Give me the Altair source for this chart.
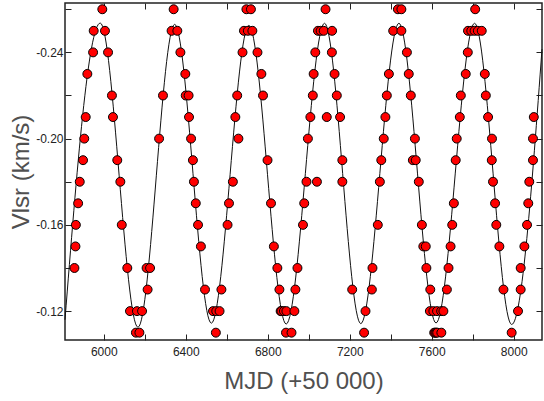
import altair as alt
import pandas as pd

# Observed radial velocities (MJD offset by 50 000, Vlsr in km/s)
mjd = [
    5857, 5862, 5864, 5875, 5883, 5899, 5905, 5912, 5920, 5948, 5951, 5993,
    6006, 6021, 6040, 6045, 6066, 6081, 6088, 6115, 6128, 6157, 6162, 6174,
    6187, 6209, 6214, 6226, 6270, 6289, 6331, 6341, 6359, 6374, 6398, 6400,
    6414, 6416, 6426, 6435, 6440, 6449, 6460, 6474, 6494, 6533, 6547, 6549,
    6565, 6574, 6604, 6611, 6630, 6642, 6651, 6657, 6677, 6684, 6696, 6703,
    6718, 6725, 6750, 6769, 6777, 6799, 6816, 6830, 6847, 6857, 6863, 6867,
    6879, 6891, 6889, 6916, 6930, 6935, 6945, 6972, 6978, 6989, 6996, 7008,
    7020, 7024, 7032, 7040, 7045, 7058, 7073, 7082, 7088, 7114, 7113, 7126,
    7137, 7153, 7164, 7164, 7212, 7270, 7277, 7308, 7311, 7337, 7347, 7354,
    7366, 7374, 7381, 7391, 7412, 7435, 7452, 7452, 7479, 7488, 7498, 7508,
    7518, 7522, 7537, 7552, 7559, 7571, 7574, 7591, 7593, 7608, 7612, 7617,
    7622, 7626, 7627, 7646, 7647, 7657, 7674, 7682, 7692, 7700, 7708, 7717,
    7722, 7737, 7742, 7766, 7776, 7777, 7793, 7809, 7812, 7825, 7844, 7859,
    7864, 7875, 7894, 7893, 7899, 7909, 7915, 7930, 7950, 7990, 8021, 8034,
    8034, 8052, 8065, 8071, 8076, 8094, 8094, 8098,
]
vlsr = [
    -0.14, -0.15, -0.16, -0.17, -0.18, -0.19, -0.20, -0.21, -0.23, -0.24, -0.25, -0.26,
    -0.25, -0.24, -0.22, -0.21, -0.19, -0.18, -0.16, -0.14, -0.12, -0.11, -0.12, -0.11,
    -0.12, -0.14, -0.13, -0.14, -0.20, -0.22, -0.25, -0.26, -0.25, -0.24, -0.23, -0.22,
    -0.22, -0.21, -0.20, -0.19, -0.18, -0.17, -0.16, -0.15, -0.13, -0.12, -0.11, -0.12,
    -0.12, -0.13, -0.16, -0.17, -0.18, -0.21, -0.22, -0.20, -0.24, -0.25, -0.26, -0.25,
    -0.26, -0.25, -0.24, -0.23, -0.22, -0.19, -0.17, -0.15, -0.14, -0.13, -0.12, -0.12,
    -0.12, -0.12, -0.11, -0.11, -0.12, -0.13, -0.14, -0.16, -0.17, -0.18, -0.20, -0.21,
    -0.22, -0.23, -0.24, -0.18, -0.25, -0.25, -0.25, -0.26, -0.21, -0.25, -0.24, -0.23,
    -0.22, -0.21, -0.19, -0.18, -0.13, -0.11, -0.12, -0.13, -0.14, -0.16, -0.18, -0.19,
    -0.20, -0.21, -0.22, -0.23, -0.25, -0.26, -0.26, -0.25, -0.24, -0.23, -0.22, -0.19,
    -0.20, -0.19, -0.18, -0.16, -0.15, -0.15, -0.14, -0.12, -0.13, -0.12, -0.11, -0.11,
    -0.11, -0.12, -0.11, -0.12, -0.11, -0.12, -0.13, -0.14, -0.15, -0.16, -0.17, -0.19,
    -0.20, -0.21, -0.22, -0.23, -0.24, -0.25, -0.25, -0.25, -0.26, -0.25, -0.25, -0.23,
    -0.22, -0.21, -0.20, -0.19, -0.18, -0.17, -0.16, -0.15, -0.13, -0.11, -0.12, -0.13,
    -0.14, -0.15, -0.16, -0.17, -0.18, -0.19, -0.20, -0.21,
]

# Fitted annual curve: extrema and end points
curve_mjd = [5811, 5983, 6167, 6346, 6525, 6708, 6890, 7077, 7254, 7440, 7621, 7809, 7990, 8138]
curve_vlsr = [-0.1160, -0.2536, -0.1125, -0.2530, -0.1144, -0.2525, -0.1140, -0.2535,
              -0.1142, -0.2535, -0.1145, -0.2535, -0.1138, -0.2415]

x_ticks = list(range(6000, 8001, 200))
y_ticks = [-0.26, -0.24, -0.22, -0.20, -0.18, -0.16, -0.14, -0.12]

points = pd.DataFrame({"mjd": mjd, "vlsr": vlsr})
curve = pd.DataFrame({"mjd": curve_mjd, "vlsr": curve_vlsr})

FONT = "Liberation Sans"
x_scale = alt.Scale(domain=[5811, 8138], nice=False, zero=False)
y_scale = alt.Scale(domain=[-0.2629, -0.1066], nice=False, zero=False, reverse=True)

# Ticks point into the plot: each axis is pulled inward by its tick length
axis_common = dict(offset=-6, tickSize=6, domain=False, grid=False, tickColor="#222",
                   tickWidth=1, labelOverlap=False, labelFlush=False)

x_bottom = alt.Axis(
    orient="bottom", values=x_ticks, format="d",
    labelExpr="datum.value % 400 == 0 ? datum.label : ''",
    labelPadding=6, labelFont=FONT, labelFontSize=12, labelColor="#222",
    title="MJD (+50 000)", titleFont=FONT, titleFontSize=24, titleFontWeight="normal",
    titleColor="#505050", titlePadding=12, **axis_common,
)
y_left = alt.Axis(
    orient="left", values=y_ticks,
    labelExpr="abs(round(datum.value * 100)) % 4 == 0 ? '-' + format(abs(datum.value), '.2f') : ''",
    labelPadding=2, labelFont=FONT, labelFontSize=12, labelColor="#222",
    title="Vlsr (km/s)", titleFont=FONT, titleFontSize=24, titleFontWeight="normal",
    titleColor="#505050", titlePadding=2, **axis_common,
)
x_top = alt.Axis(orient="top", values=x_ticks, labels=False, title=None, **axis_common)
y_right = alt.Axis(orient="right", values=y_ticks, labels=False, title=None, **axis_common)

line = alt.Chart(curve).mark_line(color="#111", strokeWidth=1, interpolate="monotone").encode(
    x=alt.X("mjd:Q", scale=x_scale, axis=x_bottom),
    y=alt.Y("vlsr:Q", scale=y_scale, axis=y_left),
)

dots = alt.Chart(points).mark_circle(
    color="#ff0000", opacity=1, size=80, stroke="#000", strokeWidth=1
).encode(
    x=alt.X("mjd:Q", scale=x_scale, axis=x_top),
    y=alt.Y("vlsr:Q", scale=y_scale, axis=y_right),
)

chart = (
    alt.layer(line, dots)
    .resolve_axis(x="independent", y="independent")
    .properties(
        width=477, height=337,
        autosize=alt.AutoSizeParams(type="none"),
        padding={"left": 65, "top": 3, "right": 2, "bottom": 61},
        background="white",
    )
    .configure_view(stroke="#222", strokeWidth=1.5)
)

chart.save("out.html", embed_options={"renderer": "svg", "actions": False})
